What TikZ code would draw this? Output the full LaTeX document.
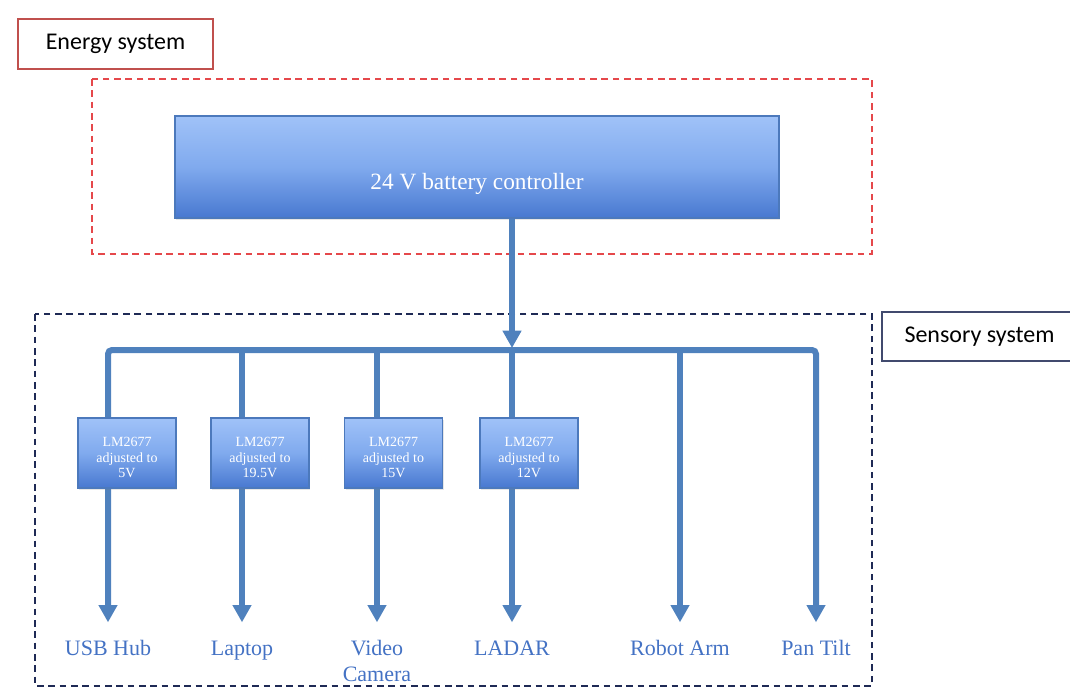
\documentclass[tikz,border=0pt]{standalone}
\usepackage{fontspec}
\setmainfont{Liberation Serif}
\newfontfamily\tagfont{Carlito}
\usetikzlibrary{arrows.meta,shadows}

\definecolor{wireblue}{HTML}{4F81BD}
\definecolor{boxtop}{HTML}{A0C2F8}
\definecolor{boxmid}{HTML}{80AAEE}
\definecolor{boxbot}{HTML}{4878D0}
\definecolor{boxedge}{HTML}{4C79BC}
\definecolor{tagred}{HTML}{C0504D}
\definecolor{dashred}{HTML}{E5484B}
\definecolor{navy}{HTML}{1F2A55}
\definecolor{loadblue}{HTML}{4472C4}

\def\tipsize{Triangle[width=13.5pt,length=13pt]}

\tikzset{
  bluebox/.style={draw=boxedge, line width=1pt, top color=boxtop, bottom color=boxbot,
    middle color=boxmid, text=white, align=center,
    drop shadow={opacity=0.2, shadow xshift=0.8pt, shadow yshift=-1.5pt}},
  ctrlbox/.style={bluebox, minimum width=453pt, minimum height=76.5pt,
    text height=33pt, text depth=0pt, font=\fontsize{17.5}{20}\selectfont},
  lmbox/.style={bluebox, minimum width=73.5pt, minimum height=52.5pt, inner sep=0pt,
    font=\fontsize{10.5}{11.5}\selectfont},
  tagbox/.style={draw, line width=1pt, fill=white, inner sep=0pt,
    minimum width=146.25pt, minimum height=37.5pt,
    font=\tagfont\fontsize{18}{20}\selectfont},
  load/.style={anchor=north, inner sep=0pt, text height=12pt, text depth=3.5pt,
    align=center, text=loadblue, font=\fontsize{16.5}{19.5}\selectfont},
  wire/.style={draw=wireblue, line width=4.5pt},
  feed/.style={wire, -{\tipsize}, shorten >=12.5pt},
  zone/.style={line width=1pt, dash pattern=on 5pt off 3.5pt}
}

\begin{document}
\begin{tikzpicture}[x=0.75pt, y=-0.75pt]
\useasboundingbox (0,0) rectangle (1070,689);

%zonas
    \draw[zone, dashred] (92,79) rectangle (872,254);
    \draw[zone, navy] (35,314) rectangle (872,686);

    \node[tagbox, draw=tagred] (energy) at (115.5,44) {Energy system};
    \node[tagbox, draw=navy!85, minimum height=36.75pt] (sensory) at (979.5,336.5) {Sensory system};

%barramento
    \coordinate (b1) at (108,350);
    \coordinate (b2) at (242,350);
    \coordinate (b3) at (377,350);
    \coordinate (b4) at (512,350);
    \coordinate (b5) at (680,350);
    \coordinate (b6) at (816,350);

%cargas
    \node[load] (usb) at (108,639) {USB Hub};
    \node[load] (laptop) at (242,639) {Laptop};
    \node[load, text height=31.5pt] (camera) at (377,639) {Video\\Camera};
    \node[load] (ladar) at (512,639) {LADAR};
    \node[load] (arm) at (680,639) {Robot Arm};
    \node[load] (pan) at (816,639) {Pan Tilt};

    \draw[wire, rounded corners=3pt, {\tipsize}-{\tipsize}, shorten <=12.5pt, shorten >=12.5pt]
        (usb.north) -- (b1) -- (b6) -- (pan.north);
    \draw[feed] (b2) -- (laptop.north);
    \draw[feed] (b3) -- (camera.north);
    \draw[feed] (b4) -- (ladar.north);
    \draw[feed] (b5) -- (arm.north);

%controlador
    \node[ctrlbox] (ctrl) at (477,167) {24 V battery controller};
    \draw[wire, -{\tipsize}, shorten >=1.5pt] (ctrl.south -| b4) -- (b4);

%reguladores
    \node[lmbox] (lm1) at (127,453) {\rule{0pt}{14pt}LM2677\\adjusted to\\5V};
    \node[lmbox] (lm2) at (260,453) {\rule{0pt}{14pt}LM2677\\adjusted to\\19.5V};
    \node[lmbox] (lm3) at (393.5,453) {\rule{0pt}{14pt}LM2677\\adjusted to\\15V};
    \node[lmbox] (lm4) at (529,453) {\rule{0pt}{14pt}LM2677\\adjusted to\\12V};

\end{tikzpicture}
\end{document}
